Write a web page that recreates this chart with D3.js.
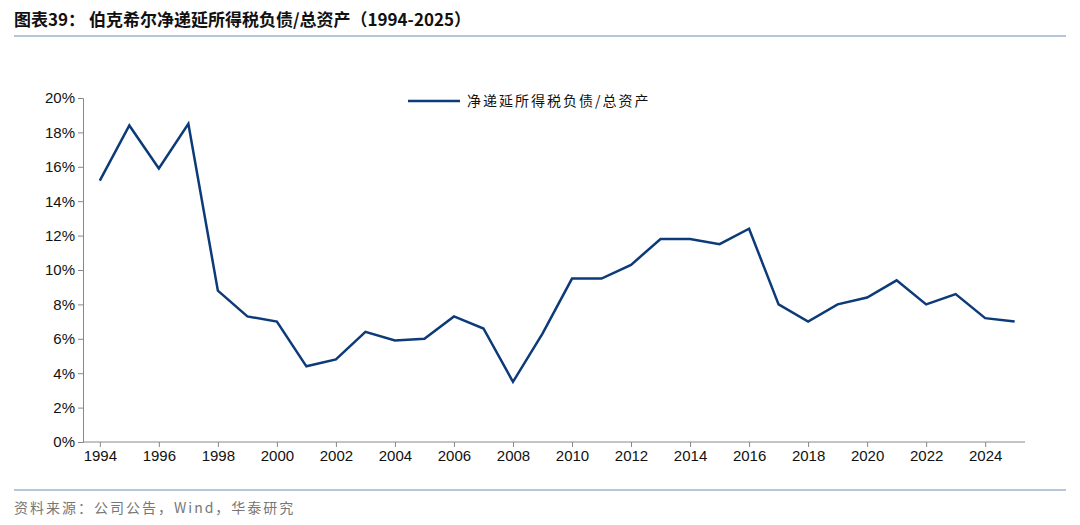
<!DOCTYPE html>
<html><head><meta charset="utf-8">
<script src="https://cdn.jsdelivr.net/npm/d3@7"></script>
<style>body{margin:0;background:#fff;font-family:"Noto Sans CJK SC","Liberation Sans",sans-serif;}</style>
</head><body><svg id="c" width="1080" height="525"></svg>
<script>
var years = d3.range(1994, 2026);
var values = [15.2,18.4,15.9,18.5,8.8,7.3,7.0,4.4,4.8,6.4,5.9,6.0,7.3,6.6,3.5,6.3,9.5,9.5,10.3,11.8,11.8,11.5,12.4,8.0,7.0,8.0,8.4,9.4,8.0,8.6,7.2,7.0];
var yTicks = [0,2,4,6,8,10,12,14,16,18,20];
var xTicks = d3.range(1994, 2025, 2);
var seriesName = "净递延所得税负债/总资产";

var svg = d3.select("#c");
var color = "#0d3a78";
svg.append("text").attr("x",14).attr("y",26).attr("font-size",17).attr("font-weight","bold").attr("fill","#111")
  .text("图表39：  伯克希尔净递延所得税负债/总资产（1994-2025）");
svg.append("line").attr("x1",14).attr("x2",1066).attr("y1",36).attr("y2",36).attr("stroke","#9fb3cc").attr("stroke-width",1.5);
svg.append("line").attr("x1",14).attr("x2",1066).attr("y1",490).attr("y2",490).attr("stroke","#9fb3cc").attr("stroke-width",1.5);
svg.append("text").attr("x",14).attr("y",513).attr("font-size",14).attr("fill","#777").attr("letter-spacing","2px")
  .text("资料来源：公司公告，Wind，华泰研究");

var x = d3.scaleLinear().domain([1993.43, 2025.35]).range([83, 1025]);
var y = d3.scaleLinear().domain([0, 20]).range([442, 98]);

var yAxis = svg.append("g").attr("transform","translate(83,0)")
  .call(d3.axisLeft(y).tickValues(yTicks).tickFormat(function(d){return d+"%";}).tickSize(5));
var xAxis = svg.append("g").attr("transform","translate(0,442)")
  .call(d3.axisBottom(x).tickValues(xTicks).tickFormat(d3.format("d")).tickSize(5));
[xAxis, yAxis].forEach(function(a){
  a.select(".domain").attr("stroke","#888");
  a.selectAll(".tick line").attr("stroke","#888");
  a.selectAll("text").attr("font-size",15).attr("fill","#111").attr("font-family","Liberation Sans, sans-serif");
});
xAxis.select(".domain").attr("d","M83,0H1025");

var line = d3.line().x(function(d,i){return x(years[i]);}).y(function(d){return y(d);});
svg.append("path").datum(values).attr("d",line).attr("fill","none").attr("stroke",color).attr("stroke-width",2.5);

svg.append("line").attr("x1",408).attr("x2",460).attr("y1",101).attr("y2",101).attr("stroke",color).attr("stroke-width",2.5);
svg.append("text").attr("x",467).attr("y",106).attr("font-size",14).attr("fill","#111").attr("letter-spacing","2px").text(seriesName);
</script></body></html>
